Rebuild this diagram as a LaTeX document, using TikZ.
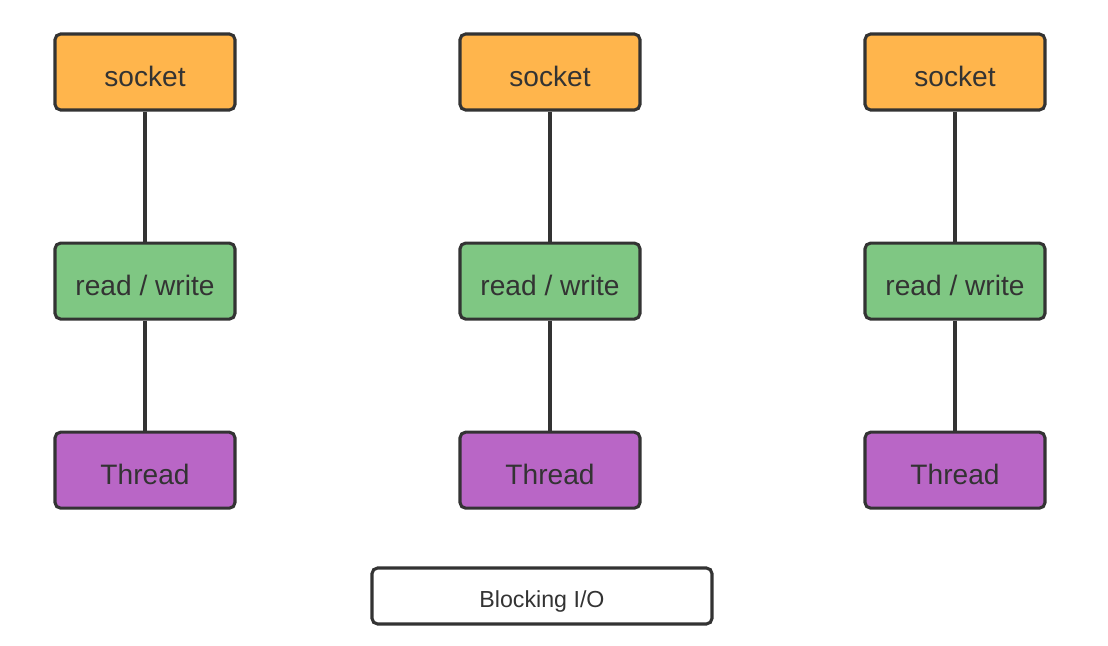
\documentclass[tikz,border=0pt]{standalone}
\usepackage{fontspec}
\setmainfont{Liberation Sans}
\usetikzlibrary{positioning}

\definecolor{sockfill}{HTML}{FFB54C}
\definecolor{rwfill}{HTML}{7FC783}
\definecolor{thrfill}{HTML}{B966C6}
\definecolor{edge}{HTML}{333333}

\begin{document}
\begin{tikzpicture}[
    font=\fontsize{20}{24}\selectfont,
    block/.style={
        draw=edge,
        rounded corners=4pt,
        line width=2.2pt,
        minimum width=4.5cm,
        minimum height=1.9cm,
        inner sep=0pt,
        text height=20pt,
        text depth=0pt,
        text=edge,
        align=center
    },
    sock/.style={block, fill=sockfill},
    rw/.style={block, fill=rwfill},
    thr/.style={block, fill=thrfill},
    caption/.style={block, fill=white, minimum width=8.5cm, minimum height=1.4cm,
        text height=16pt, font=\fontsize{16.5}{20}\selectfont},
    link/.style={draw=edge, line width=2.2pt}
]
\useasboundingbox (0,0) rectangle (27.7,-16.15);

% ============================================================
% LEFT COLUMN
% ============================================================
\node[sock] (sockA) at (3.625,-1.8) {socket};
\node[rw, below=3.25cm of sockA] (rwA) {read / write};
\node[thr, below=2.75cm of rwA] (thrA) {Thread};

\draw[link] (sockA) -- (rwA);
\draw[link] (rwA) -- (thrA);

% ============================================================
% MIDDLE COLUMN
% ============================================================
\node[sock] (sockB) at (13.75,-1.8) {socket};
\node[rw, below=3.25cm of sockB] (rwB) {read / write};
\node[thr, below=2.75cm of rwB] (thrB) {Thread};

\draw[link] (sockB) -- (rwB);
\draw[link] (rwB) -- (thrB);

% ============================================================
% RIGHT COLUMN
% ============================================================
\node[sock] (sockC) at (23.875,-1.8) {socket};
\node[rw, below=3.25cm of sockC] (rwC) {read / write};
\node[thr, below=2.75cm of rwC] (thrC) {Thread};

\draw[link] (sockC) -- (rwC);
\draw[link] (rwC) -- (thrC);

% ============================================================
% CAPTION
% ============================================================
\node[caption] (title) at (13.55,-14.9) {Blocking I/O};

\end{tikzpicture}
\end{document}
